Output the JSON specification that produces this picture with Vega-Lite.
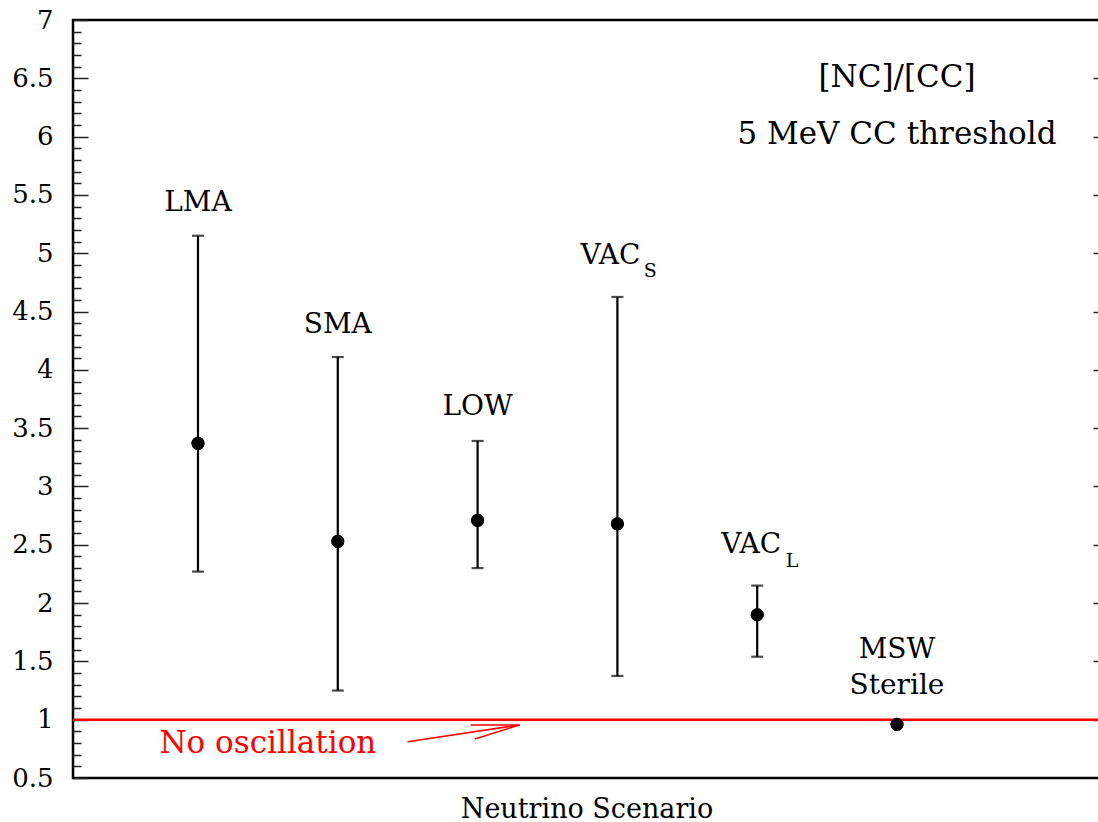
{
  "$schema": "https://vega.github.io/schema/vega-lite/v6.json",
  "width": 1027,
  "height": 758,
  "autosize": "none",
  "padding": {"left": 73, "top": 20, "right": 0, "bottom": 44},
  "background": "white",
  "config": {
    "view": {"stroke": "black", "strokeWidth": 2.5},
    "font": "DejaVu Serif"
  },
  "datasets": {
    "points": [
      {"x": 1, "scenario": "LMA", "ratio": 3.37, "lo": 2.27, "hi": 5.15},
      {"x": 2, "scenario": "SMA", "ratio": 2.53, "lo": 1.25, "hi": 4.11},
      {"x": 3, "scenario": "LOW", "ratio": 2.71, "lo": 2.30, "hi": 3.39},
      {"x": 4, "scenario": "VAC_S", "ratio": 2.68, "lo": 1.375, "hi": 4.625},
      {"x": 5, "scenario": "VAC_L", "ratio": 1.90, "lo": 1.54, "hi": 2.15},
      {"x": 6, "scenario": "MSW Sterile", "ratio": 0.96, "lo": 0.96, "hi": 0.96}
    ],
    "labels": [
      {"x": 1, "y": 5.43, "text": "LMA"},
      {"x": 2, "y": 4.385, "text": "SMA"},
      {"x": 3, "y": 3.68, "text": "LOW"},
      {"x": 3.95, "y": 4.977, "text": "VAC"},
      {"x": 4.957, "y": 2.498, "text": "VAC"},
      {"x": 6, "y": 1.60, "text": "MSW"},
      {"x": 6, "y": 1.29, "text": "Sterile"}
    ],
    "subs": [
      {"x": 4.236, "y": 4.848, "text": "S"},
      {"x": 5.25, "y": 2.365, "text": "L"}
    ],
    "notes": [
      {"x": 6, "y": 6.5, "text": "[NC]/[CC]"},
      {"x": 6, "y": 6.01, "text": "5 MeV CC threshold"}
    ],
    "noosc": [{"x": 1.5, "y": 0.79, "text": "No oscillation"}],
    "arrow": [
      {"x": 2.50, "y": 0.81, "x2": 3.30, "y2": 0.955},
      {"x": 2.95, "y": 0.955, "x2": 3.30, "y2": 0.955},
      {"x": 2.98, "y": 0.834, "x2": 3.30, "y2": 0.955}
    ],
    "ref": [{"ratio": 1}]
  },
  "encoding": {
    "x": {
      "field": "x",
      "type": "quantitative",
      "scale": {"domain": [0.106, 7.452], "nice": false, "zero": false},
      "axis": {
        "title": "Neutrino Scenario",
        "domain": false,
        "ticks": false,
        "labels": false,
        "grid": false,
        "titleFont": "DejaVu Serif",
        "titleFontSize": 27,
        "titleFontWeight": "normal",
        "titleColor": "black",
        "titlePadding": 18
      }
    }
  },
  "resolve": {"axis": {"y": "independent"}},
  "layer": [
    {
      "data": {"name": "points"},
      "mark": {"type": "circle", "size": 170, "opacity": 1, "color": "black"},
      "encoding": {
        "y": {
          "field": "ratio",
          "type": "quantitative",
          "scale": {"domain": [0.5, 7], "nice": false, "zero": false},
          "axis": {
            "orient": "left",
            "title": null,
            "grid": false,
            "domain": false,
            "values": [0.5,0.6,0.7,0.8,0.9,1,1.1,1.2,1.3,1.4,1.5,1.6,1.7,1.8,1.9,2,2.1,2.2,2.3,2.4,2.5,2.6,2.7,2.8,2.9,3,3.1,3.2,3.3,3.4,3.5,3.6,3.7,3.8,3.9,4,4.1,4.2,4.3,4.4,4.5,4.6,4.7,4.8,4.9,5,5.1,5.2,5.3,5.4,5.5,5.6,5.7,5.8,5.9,6,6.1,6.2,6.3,6.4,6.5,6.6,6.7,6.8,6.9,7],
            "tickSize": {"condition": {"test": "abs(datum.value*2-round(datum.value*2))<0.001", "value": -15}, "value": -8},
            "tickColor": "#222",
            "tickWidth": 1.5,
            "labelExpr": "abs(datum.value*2-round(datum.value*2))<0.001 ? format(datum.value,'~g') : ''",
            "labelFont": "DejaVu Serif",
            "labelFontSize": 26,
            "labelColor": "black",
            "labelPadding": 35,
            "labelFlush": false,
            "labelOverlap": false
          }
        }
      }
    },
    {
      "data": {"name": "ref"},
      "mark": {"type": "rule", "color": "red", "strokeWidth": 2.5},
      "encoding": {
        "x": null,
        "y": {
          "field": "ratio",
          "type": "quantitative",
          "scale": {"domain": [0.5, 7], "nice": false, "zero": false},
          "axis": {
            "orient": "right",
            "title": null,
            "grid": false,
            "domain": false,
            "labels": false,
            "values": [1,1.5,2,2.5,3,3.5,4,4.5,5,5.5,6,6.5],
            "tickSize": -7,
            "tickColor": "#222",
            "tickWidth": 1.5
          }
        }
      }
    },
    {
      "data": {"name": "points"},
      "mark": {"type": "rule", "color": "black", "strokeWidth": 2.2},
      "encoding": {
        "y": {"field": "lo", "type": "quantitative", "axis": null},
        "y2": {"field": "hi"}
      }
    },
    {
      "data": {"name": "points"},
      "transform": [{"fold": ["lo", "hi"], "as": ["end", "val"]}],
      "mark": {"type": "tick", "orient": "horizontal", "size": 12, "thickness": 2.2, "color": "black"},
      "encoding": {
        "y": {"field": "val", "type": "quantitative", "axis": null}
      }
    },
    {
      "data": {"name": "points"},
      "mark": {"type": "circle", "size": 170, "opacity": 1, "color": "black"},
      "encoding": {
        "y": {"field": "ratio", "type": "quantitative", "axis": null}
      }
    },
    {
      "data": {"name": "arrow"},
      "mark": {"type": "rule", "color": "red", "strokeWidth": 1.5},
      "encoding": {
        "x2": {"field": "x2"},
        "y": {"field": "y", "type": "quantitative", "axis": null},
        "y2": {"field": "y2"}
      }
    },
    {
      "data": {"name": "labels"},
      "mark": {"type": "text", "font": "DejaVu Serif", "fontSize": 28, "align": "center", "baseline": "middle", "color": "black"},
      "encoding": {
        "y": {"field": "y", "type": "quantitative", "axis": null},
        "text": {"field": "text"}
      }
    },
    {
      "data": {"name": "subs"},
      "mark": {"type": "text", "font": "DejaVu Serif", "fontSize": 19, "align": "center", "baseline": "middle", "color": "black"},
      "encoding": {
        "y": {"field": "y", "type": "quantitative", "axis": null},
        "text": {"field": "text"}
      }
    },
    {
      "data": {"name": "notes"},
      "mark": {"type": "text", "font": "DejaVu Serif", "fontSize": 31, "align": "center", "baseline": "middle", "color": "black"},
      "encoding": {
        "y": {"field": "y", "type": "quantitative", "axis": null},
        "text": {"field": "text"}
      }
    },
    {
      "data": {"name": "noosc"},
      "mark": {"type": "text", "font": "DejaVu Serif", "fontSize": 31, "align": "center", "baseline": "middle", "color": "red"},
      "encoding": {
        "y": {"field": "y", "type": "quantitative", "axis": null},
        "text": {"field": "text"}
      }
    }
  ]
}
